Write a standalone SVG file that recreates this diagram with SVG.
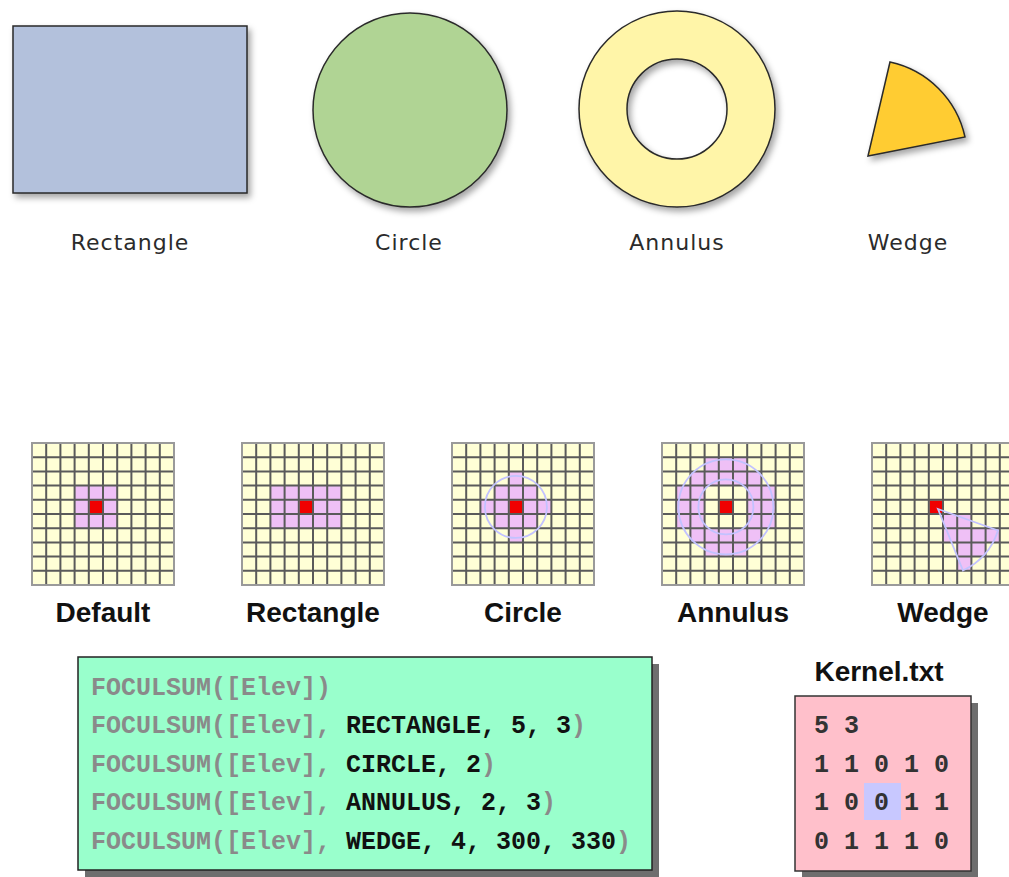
<svg xmlns="http://www.w3.org/2000/svg" xmlns:xlink="http://www.w3.org/1999/xlink" width="1009" height="877" viewBox="0 0 1009 877">
<style>
.shape{stroke:#2a2a2a;stroke-width:1.5;filter:url(#ds)}
.lbl{font-family:"DejaVu Sans","Liberation Sans",sans-serif;font-size:22px;letter-spacing:1px;fill:#2b2b2b;text-anchor:middle}
.blbl{font-family:"Liberation Sans",Arial,sans-serif;font-weight:bold;font-size:28px;fill:#111;text-anchor:middle}
.cell{fill:#ffffd6}
.pink{fill:#efc0f6}
.red{fill:#f00000}
.gl{fill:none;stroke:#5a5a5a;stroke-width:2}
.gb{fill:none;stroke:#9a9a9a;stroke-width:2}
.ol{fill:none;stroke:#c2c2ff;stroke-width:1.8}
.code{font-family:"Liberation Mono","Courier New",monospace;font-weight:bold;font-size:25px;fill:#8a8a8a}
.k{fill:#111}
.kern{font-family:"Liberation Mono","Courier New",monospace;font-weight:bold;font-size:25px;fill:#333}
</style>
<defs>
<filter id="ds" x="-10%" y="-10%" width="130%" height="130%">
<feDropShadow dx="3" dy="4" stdDeviation="3" flood-color="#000" flood-opacity="0.35"/>
</filter>
<path id="glines" class="gl" d="M14.2 0V142M28.4 0V142M42.6 0V142M56.8 0V142M71 0V142M85.2 0V142M99.4 0V142M113.6 0V142M127.8 0V142M0 14.2H142M0 28.4H142M0 42.6H142M0 56.8H142M0 71H142M0 85.2H142M0 99.4H142M0 113.6H142M0 127.8H142"/>
<rect id="gbg" class="cell" x="0" y="0" width="142" height="142"/>
<rect id="gborder" class="gb" x="0" y="0" width="142" height="142"/>
<rect id="rc" class="red" x="57.5" y="57.5" width="13" height="13"/>
</defs>
<rect width="1009" height="877" fill="#fff"/>

<g id="shape-rectangle">
<rect class="shape" x="13" y="26" width="234" height="167" fill="#b3c1dc"/>
<text class="lbl" x="130" y="250">Rectangle</text>
</g>
<g id="shape-circle">
<circle class="shape" cx="410" cy="110" r="97" fill="#b0d494"/>
<text class="lbl" x="409" y="250">Circle</text>
</g>
<g id="shape-annulus">
<path class="shape" fill="#fff5a8" fill-rule="evenodd" d="M579 109a98 98 0 1 0 196 0a98 98 0 1 0 -196 0ZM627 109a50 50 0 1 0 100 0a50 50 0 1 0 -100 0Z"/>
<text class="lbl" x="677" y="250">Annulus</text>
</g>
<g id="shape-wedge">
<path class="shape" fill="#ffcc33" d="M868 156L890 62A98 98 0 0 1 965 137Z"/>
<text class="lbl" x="908" y="250">Wedge</text>
</g>

<g id="grid-default" transform="translate(32 443)">
<use href="#gbg"/>
<rect class="pink" x="42.6" y="42.6" width="42.6" height="42.6"/>
<use href="#rc"/>
<use href="#glines"/>
<use href="#gborder"/>
<text class="blbl" x="71" y="179">Default</text>
</g>
<g id="grid-rectangle" transform="translate(242 443)">
<use href="#gbg"/>
<rect class="pink" x="28.4" y="42.6" width="71" height="42.6"/>
<use href="#rc"/>
<use href="#glines"/>
<use href="#gborder"/>
<text class="blbl" x="71" y="179">Rectangle</text>
</g>
<g id="grid-circle" transform="translate(452 443)">
<use href="#gbg"/>
<rect class="pink" x="56.8" y="28.4" width="14.2" height="14.2"/>
<rect class="pink" x="42.6" y="42.6" width="42.6" height="14.2"/>
<rect class="pink" x="28.4" y="56.8" width="71" height="14.2"/>
<rect class="pink" x="42.6" y="71" width="42.6" height="14.2"/>
<rect class="pink" x="56.8" y="85.2" width="14.2" height="14.2"/>
<use href="#rc"/>
<use href="#glines"/>
<use href="#gborder"/>
<circle class="ol" cx="63.9" cy="63.9" r="31"/>
<text class="blbl" x="71" y="179">Circle</text>
</g>
<g id="grid-annulus" transform="translate(662 443)">
<use href="#gbg"/>
<rect class="pink" x="42.6" y="14.2" width="42.6" height="14.2"/>
<rect class="pink" x="28.4" y="28.4" width="71" height="14.2"/>
<rect class="pink" x="14.2" y="42.6" width="28.4" height="42.6"/>
<rect class="pink" x="85.2" y="42.6" width="28.4" height="42.6"/>
<rect class="pink" x="28.4" y="85.2" width="71" height="14.2"/>
<rect class="pink" x="42.6" y="99.4" width="42.6" height="14.2"/>
<use href="#rc"/>
<use href="#glines"/>
<use href="#gborder"/>
<circle class="ol" cx="63.9" cy="63.9" r="47.5"/>
<circle class="ol" cx="63.9" cy="63.9" r="27.5"/>
<text class="blbl" x="71" y="179">Annulus</text>
</g>
<g id="grid-wedge" transform="translate(872 443)">
<use href="#gbg"/>
<rect class="pink" x="71" y="71" width="28.4" height="14.2"/>
<rect class="pink" x="71" y="85.2" width="56.8" height="14.2"/>
<rect class="pink" x="85.2" y="99.4" width="28.4" height="14.2"/>
<rect class="pink" x="85.2" y="113.6" width="14.2" height="14.2"/>
<use href="#rc"/>
<use href="#glines"/>
<use href="#gborder"/>
<path class="ol" d="M66 66L126 87.5A67 67 0 0 1 91 127.5Z"/>
<text class="blbl" x="71" y="179">Wedge</text>
</g>

<g id="code-box">
<rect x="85" y="664" width="574" height="213" fill="#6e6e6e"/>
<rect x="78" y="657" width="574" height="213" fill="#99ffcc" stroke="#222" stroke-width="1.5"/>
<text class="code" x="91" y="694.5">FOCULSUM([Elev])</text>
<text class="code" x="91" y="733">FOCULSUM([Elev], <tspan class="k">RECTANGLE, 5, 3</tspan>)</text>
<text class="code" x="91" y="771.5">FOCULSUM([Elev], <tspan class="k">CIRCLE, 2</tspan>)</text>
<text class="code" x="91" y="810">FOCULSUM([Elev], <tspan class="k">ANNULUS, 2, 3</tspan>)</text>
<text class="code" x="91" y="848.5">FOCULSUM([Elev], <tspan class="k">WEDGE, 4, 300, 330</tspan>)</text>
</g>

<g id="kernel-file">
<text class="blbl" x="879" y="681">Kernel.txt</text>
<rect x="802" y="703" width="176" height="175" fill="#6e6e6e"/>
<rect x="795" y="696" width="176" height="175" fill="#ffc0cb" stroke="#333" stroke-width="1.5"/>
<rect x="864" y="783" width="37" height="37" fill="#c8c8ff"/>
<text class="kern" x="814" y="733">5 3</text>
<text class="kern" x="814" y="772">1 1 0 1 0</text>
<text class="kern" x="814" y="810">1 0 0 1 1</text>
<text class="kern" x="814" y="848.5">0 1 1 1 0</text>
</g>
</svg>
